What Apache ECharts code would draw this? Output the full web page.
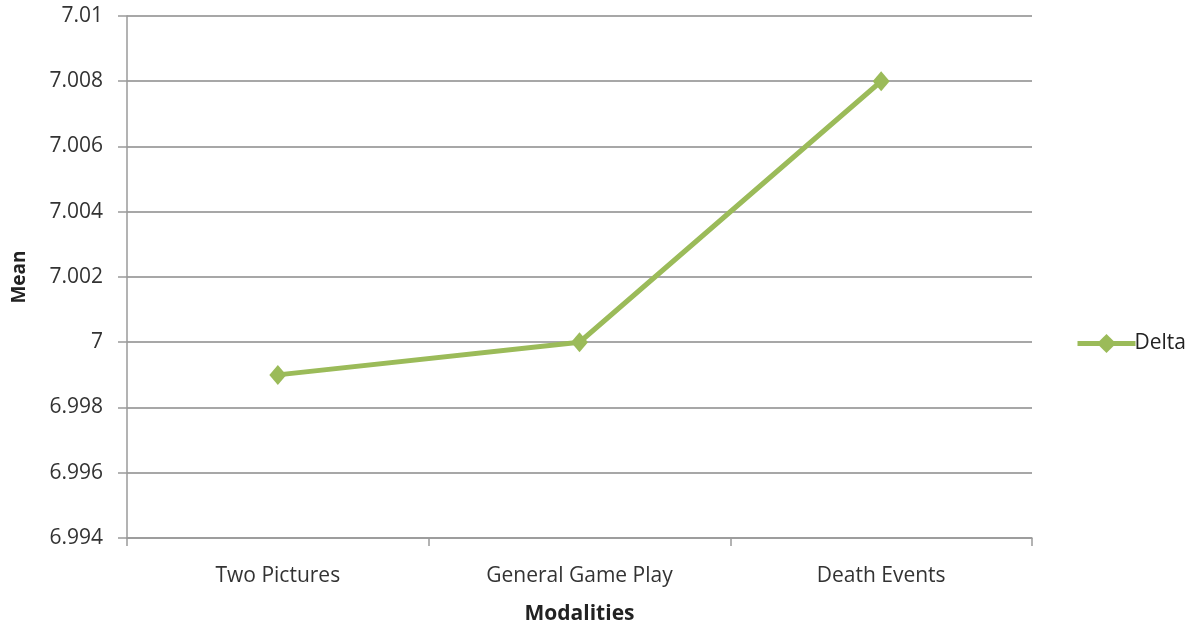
<!DOCTYPE html>
<html>
<head>
<meta charset="utf-8">
<script src="https://cdn.jsdelivr.net/npm/echarts@6/dist/echarts.min.js"></script>
<style>
  html, body { margin: 0; padding: 0; background: #fff; }
  #chart { width: 1198px; height: 628px; }
</style>
</head>
<body>
<div id="chart"></div>
<script>
// Modalities on the x axis and the mean for the Delta series
const categories = ['Two Pictures', 'General Game Play', 'Death Events'];
const deltaMeans = [6.999, 7.000, 7.008];
const seriesName = 'Delta';

const FONT = '"Open Sans", "Liberation Sans", sans-serif';
const GREEN = '#9bbb59';
const AXIS_GREY = '#9a9a9a';

const chart = echarts.init(document.getElementById('chart'), null, { renderer: 'canvas' });

chart.setOption({
  animation: false,
  grid: { left: 127, right: 166, top: 16, bottom: 90, containLabel: false, outerBoundsMode: 'none' },
  legend: {
    data: [seriesName],
    orient: 'horizontal',
    left: 1070,
    top: 328,
    itemWidth: 58,
    itemHeight: 24,
    lineStyle: { width: 5 },
    textStyle: { fontFamily: FONT, fontSize: 21, color: '#222', padding: [0, 0, 0, -6] }
  },
  xAxis: {
    type: 'category',
    data: categories,
    boundaryGap: true,
    name: 'Modalities',
    nameLocation: 'middle',
    nameGap: 66,
    nameTextStyle: { fontFamily: FONT, fontSize: 21, fontWeight: 'bold', color: '#222' },
    axisLine: { lineStyle: { color: AXIS_GREY, width: 1.5 } },
    axisTick: { show: true, length: 8, inside: false, lineStyle: { color: AXIS_GREY, width: 1.5 } },
    axisLabel: { fontFamily: FONT, fontSize: 21, color: '#333', margin: 28 },
    splitLine: { show: false }
  },
  yAxis: {
    type: 'value',
    min: 6.994,
    max: 7.01,
    interval: 0.002,
    name: 'Mean',
    nameLocation: 'middle',
    nameGap: 98,
    nameRotate: 90,
    nameTextStyle: { fontFamily: FONT, fontSize: 19, fontWeight: 'bold', color: '#222' },
    axisLine: { show: true, lineStyle: { color: AXIS_GREY, width: 1.5 } },
    axisTick: { show: true, length: 9, inside: false, lineStyle: { color: AXIS_GREY, width: 1.5 } },
    axisLabel: {
      fontFamily: FONT, fontSize: 21, color: '#333', margin: 24,
      formatter: v => String(parseFloat(v.toFixed(3)))
    },
    splitLine: { show: true, lineStyle: { color: '#8a8a8a', width: 1.5 } }
  },
  series: [{
    name: seriesName,
    type: 'line',
    data: deltaMeans,
    symbol: 'diamond',
    symbolSize: [17, 20],
    itemStyle: { color: GREEN },
    lineStyle: { color: GREEN, width: 5 }
  }]
});
</script>
</body>
</html>
